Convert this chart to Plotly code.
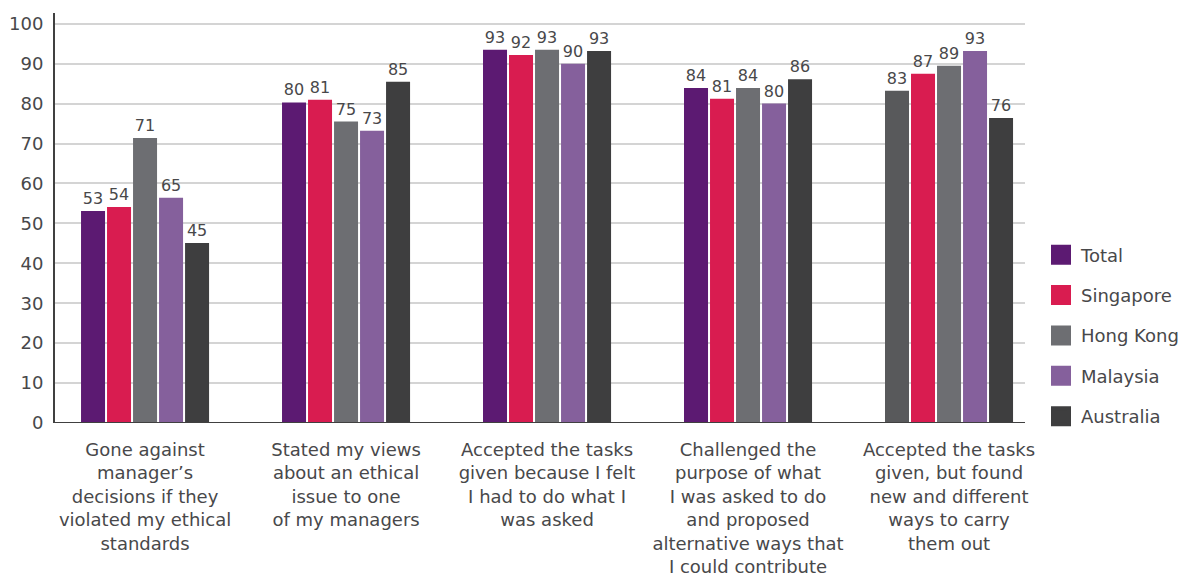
import plotly.graph_objects as go

categories = [
    "Gone against<br>manager’s<br>decisions if they<br>violated my ethical<br>standards",
    "Stated my views<br>about an ethical<br>issue to one<br>of my managers",
    "Accepted the tasks<br>given because I felt<br>I had to do what I<br>was asked",
    "Challenged the<br>purpose of what<br>I was asked to do<br>and proposed<br>alternative ways that<br>I could contribute",
    "Accepted the tasks<br>given, but found<br>new and different<br>ways to carry<br>them out",
]
series_names = ["Total", "Singapore", "Hong Kong", "Malaysia", "Australia"]

# bar heights as drawn
total = [53.1, 80.3, 93.5, 83.9, 83.2]
singapore = [54.1, 81.0, 92.2, 81.2, 87.5]
hong_kong = [71.4, 75.5, 93.5, 83.9, 89.5]
malaysia = [56.4, 73.2, 90.0, 80.0, 93.2]
australia = [45.1, 85.5, 93.2, 86.1, 76.4]

# printed value labels
total_lbl = ["53", "80", "93", "84", "83"]
singapore_lbl = ["54", "81", "92", "81", "87"]
hong_kong_lbl = ["71", "75", "93", "84", "89"]
malaysia_lbl = ["65", "73", "90", "80", "93"]
australia_lbl = ["45", "85", "93", "86", "76"]

values = [total, singapore, hong_kong, malaysia, australia]
labels = [total_lbl, singapore_lbl, hong_kong_lbl, malaysia_lbl, australia_lbl]
colors = ["#5c1a72", "#d91c50", "#6d6e72", "#85609c", "#3e3e3f"]
bar_colors = [
    ["#5c1a72", "#5c1a72", "#5c1a72", "#5c1a72", "#58595b"],
    "#d91c50", "#6d6e72", "#85609c", "#3e3e3f",
]

font_family = "DejaVu Sans, sans-serif"
text_color = "#48484a"

x_idx = list(range(len(categories)))
fig = go.Figure()
for name, vals, lbl, bc in zip(series_names, values, labels, bar_colors):
    fig.add_trace(go.Bar(
        x=x_idx, y=vals, name=name, text=lbl, textposition="outside",
        textfont=dict(size=16, color=text_color, family=font_family),
        marker=dict(color=bc, line=dict(width=0)),
        showlegend=False, cliponaxis=False,
    ))
for i, (name, c) in enumerate(zip(series_names, colors)):
    fig.add_trace(go.Scatter(
        x=[None], y=[None], mode="markers", name=name,
        marker=dict(symbol="square", size=22, color=c, line=dict(color=c, width=4)),
        legendgroup=name, showlegend=True,
    ))

fig.update_layout(
    width=1187, height=581, autosize=False,
    margin=dict(l=55, r=162, t=13, b=158, autoexpand=False),
    paper_bgcolor="white", plot_bgcolor="white",
    barmode="group", bargap=0.353, bargroupgap=0.077,
    font=dict(family=font_family, color=text_color),
    legend=dict(
        xref="container", x=1041 / 1187, y=0.455, xanchor="left", yanchor="top",
        font=dict(size=18, color=text_color, family=font_family),
        tracegroupgap=14, itemsizing="trace",
        bgcolor="rgba(0,0,0,0)",
    ),
    xaxis=dict(
        range=[-0.448, 4.378], tickmode="array", tickvals=x_idx, ticktext=categories,
        tickangle=0, showgrid=False, zeroline=False, showline=False, ticks="",
        automargin=False, ticklabelstandoff=14,
        tickfont=dict(size=18, color=text_color, family=font_family),
    ),
    yaxis=dict(
        range=[0, 102.7], tickmode="array", tickvals=list(range(0, 101, 10)),
        showgrid=True, gridcolor="#d4d4d4", gridwidth=2,
        showline=True, linecolor="#404040", linewidth=2, zeroline=False,
        ticks="", ticklabelstandoff=6, automargin=False,
        tickfont=dict(size=18, color=text_color, family=font_family),
    ),
)
fig.add_shape(type="line", xref="paper", yref="y", x0=0, x1=1, y0=0, y1=0,
              line=dict(color="#404040", width=2))

fig.write_html(
    "out.html",
    config={"responsive": False, "displayModeBar": False},
    post_script=(
        "document.body.style.margin='0';"
        "document.body.style.overflow='hidden';"
        "document.documentElement.style.overflow='hidden';"
    ),
)
